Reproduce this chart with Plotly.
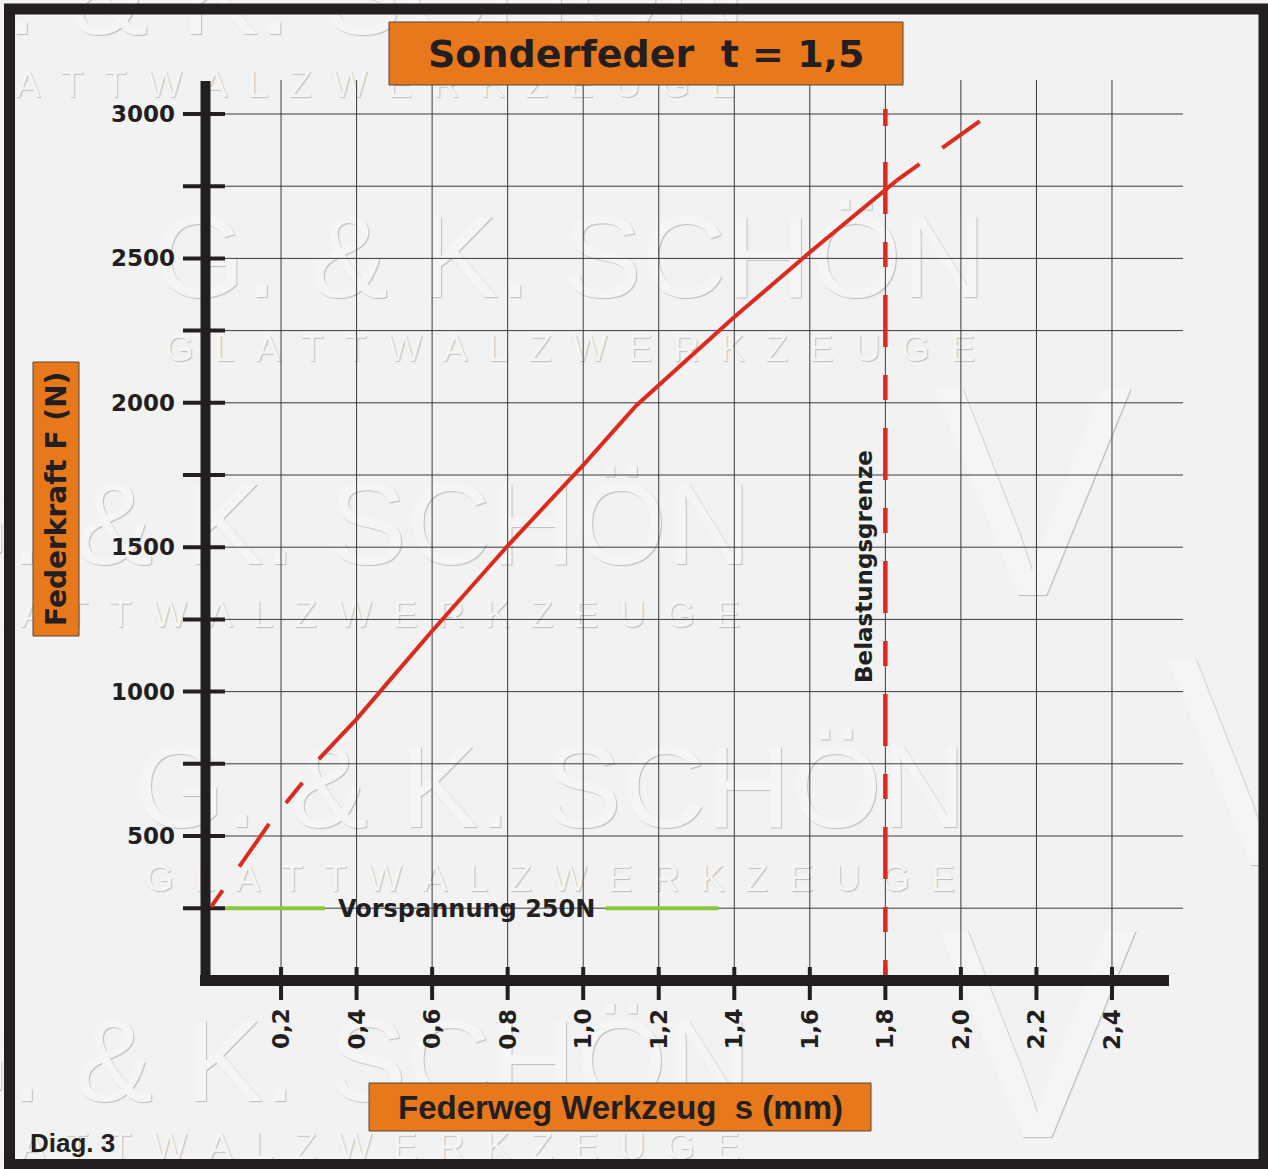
import plotly.graph_objects as go

W, H = 1268, 1169

# Kennlinie Sonderfeder t = 1,5
federweg = [0.015, 0.17, 0.26, 0.30, 0.40, 0.50, 0.60, 0.80, 1.00, 1.14, 1.20, 1.31, 1.40, 1.60, 1.80, 1.83, 2.05]
federkraft = [255, 545, 690, 766, 905, 1058, 1210, 1505, 1784, 1990, 2060, 2192, 2297, 2521, 2735, 2770, 2975]
solid_from, solid_to = 0.30, 1.83   # ausserhalb davon gestrichelt

belastungsgrenze = 1.8
vorspannung = 250
vorspannung_segmente = [(0.052, 0.316), (1.06, 1.358)]

x_ticks = [0.2, 0.4, 0.6, 0.8, 1.0, 1.2, 1.4, 1.6, 1.8, 2.0, 2.2, 2.4]
x_labels = ["0,2", "0,4", "0,6", "0,8", "1,0", "1,2", "1,4", "1,6", "1,8", "2,0", "2,2", "2,4"]
y_ticks = [250, 500, 750, 1000, 1250, 1500, 1750, 2000, 2250, 2500, 2750, 3000]
y_labels = ["", "500", "", "1000", "", "1500", "", "2000", "", "2500", "", "3000"]

# pixel <-> data (plot area = whole page)
X0, XS = 205.5, 377.7
Y0, YS = 980.4, 0.2888


def sx(px):
    return (px - X0) / XS


def fy(py):
    return (Y0 - py) / YS


def px(x):
    return x / W


def py(y):
    return 1 - y / H


BLACK = "#231f20"
RED = "#dc2b1e"
GREEN = "#8cc63e"
ORANGE = "#e8781c"
BOLD = dict(family="DejaVu Sans", weight="bold", color=BLACK)

fig = go.Figure()

# watermark
wm_font = dict(family="Liberation Sans", color="#f5f5f5", shadow="1px 1px 1px #bdbdbd")
rows = [(330, 5, 88), (570, 268, 352), (335, 535, 618), (550, 798, 882), (335, 1072, 1150)]
fig.add_trace(go.Scatter(
    x=[sx(r[0]) for r in rows], y=[fy(r[1]) for r in rows], mode="text",
    text=["G. & K. SCHÖN"] * len(rows), textfont=dict(size=117, **wm_font),
    hoverinfo="skip", cliponaxis=False))
fig.add_trace(go.Scatter(
    x=[sx(r[0]) for r in rows], y=[fy(r[2]) for r in rows], mode="text",
    text=["\u00a0\u00a0".join("GLATTWALZWERKZEUGE")] * len(rows), textfont=dict(size=37, **wm_font),
    hoverinfo="skip", cliponaxis=False))
logos = [(1032, -5), (1270, 225), (1032, 520), (1265, 790), (1037, 1062)]
fig.add_trace(go.Scatter(
    x=[sx(l[0]) for l in logos], y=[fy(l[1]) for l in logos], mode="text",
    text=["V"] * len(logos), textfont=dict(size=300, **wm_font),
    hoverinfo="skip", cliponaxis=False))

# grid
x_end, y_top = sx(1183), fy(80)
gx, gy = [], []
for t in y_ticks:
    gx += [0, x_end, None]
    gy += [t, t, None]
for t in x_ticks:
    gx += [t, t, None]
    gy += [0, y_top, None]
fig.add_trace(go.Scatter(x=gx, y=gy, mode="lines", line=dict(color="#3a3a3a", width=1), hoverinfo="skip"))

# Vorspannung
for a, b in vorspannung_segmente:
    fig.add_trace(go.Scatter(x=[a, b], y=[vorspannung, vorspannung], mode="lines",
                             line=dict(color=GREEN, width=4), hoverinfo="skip"))

# axes + ticks
fig.add_trace(go.Scatter(x=[0, 0], y=[fy(986), fy(81)], mode="lines", line=dict(color=BLACK, width=10), hoverinfo="skip"))
fig.add_trace(go.Scatter(x=[sx(200), sx(1169)], y=[0, 0], mode="lines", line=dict(color=BLACK, width=11), hoverinfo="skip"))
tx, ty = [], []
for t in y_ticks:
    tx += [sx(183), sx(225), None]
    ty += [t, t, None]
for t in x_ticks:
    tx += [t, t, None]
    ty += [fy(967), fy(1000), None]
fig.add_trace(go.Scatter(x=tx, y=ty, mode="lines", line=dict(color=BLACK, width=4), hoverinfo="skip"))

# Belastungsgrenze
fig.add_trace(go.Scatter(
    x=[belastungsgrenze, belastungsgrenze], y=[fy(109), fy(975)], mode="lines", hoverinfo="skip",
    line=dict(color=RED, width=4.5, dash="17px,36px," + "52px,28px,25px,28px," * 7 + "52px,28px")))

# Kennlinie
lo = [i for i, s in enumerate(federweg) if s <= solid_from]
mid = [i for i, s in enumerate(federweg) if solid_from <= s <= solid_to]
hi = [i for i, s in enumerate(federweg) if s >= solid_to]
for idx, dash in [(lo, "20px,29px,52px,27px,26px,29px"), (mid, "solid"), (hi, "28px,28px,52px,28px")]:
    fig.add_trace(go.Scatter(x=[federweg[i] for i in idx], y=[federkraft[i] for i in idx], mode="lines",
                             line=dict(color=RED, width=4, dash=dash), hoverinfo="skip"))

ann = []
for t, lab in zip(y_ticks, y_labels):
    if lab:
        ann.append(dict(x=sx(177), y=t, text=lab, xanchor="right", yanchor="middle",
                        showarrow=False, font=dict(size=23, **BOLD)))
for t, lab in zip(x_ticks, x_labels):
    ann.append(dict(x=t, y=fy(1029), text=lab, textangle=-90, xanchor="center", yanchor="middle",
                    showarrow=False, font=dict(size=23, **BOLD)))
ann.append(dict(x=sx(466), y=vorspannung, yshift=-1, text="Vorspannung %dN" % vorspannung, showarrow=False,
                font=dict(size=24, **BOLD)))
ann.append(dict(x=sx(864), y=fy(567), text="Belastungsgrenze", textangle=-90, showarrow=False,
                font=dict(size=23, **BOLD)))

# orange boxes
boxes = [
    ((389, 22, 903, 85), "Sonderfeder\u00a0\u00a0t = 1,5", dict(size=38, **BOLD), 0),
    ((33, 362, 79, 636), "Federkraft F (N)", dict(size=28, **BOLD), -90),
    ((369, 1083, 871, 1131), "Federweg Werkzeug\u00a0\u00a0s (mm)",
     dict(size=33, family="Liberation Sans", weight="bold", color=BLACK), 0),
]
shapes = []
for (x0, y0, x1, y1), text, font, ang in boxes:
    shapes.append(dict(type="rect", xref="paper", yref="paper", x0=px(x0), x1=px(x1), y0=py(y1), y1=py(y0),
                       fillcolor=ORANGE, line=dict(color="#5b4636", width=1), layer="above"))
    ann.append(dict(xref="paper", yref="paper", x=px((x0 + x1) / 2), y=py((y0 + y1) / 2), text=text,
                    textangle=ang, showarrow=False, font=font, xanchor="center", yanchor="middle"))

ann.append(dict(xref="paper", yref="paper", x=px(28), y=py(1143), text="Diag. 3", xanchor="left",
                yanchor="middle", showarrow=False,
                font=dict(size=26, family="Liberation Sans", weight="bold", color=BLACK)))

# frame
shapes.append(dict(type="rect", xref="paper", yref="paper", x0=px(9.5), x1=px(1264), y0=py(1164.5), y1=py(9),
                   line=dict(color=BLACK, width=11), layer="above"))

fig.update_layout(
    width=W, height=H,
    margin=dict(l=0, r=0, t=0, b=0, pad=0),
    paper_bgcolor="#f2f2f2", plot_bgcolor="#f2f2f2",
    showlegend=False,
    xaxis=dict(range=[sx(0), sx(W)], visible=False, fixedrange=True),
    yaxis=dict(range=[fy(H), fy(0)], visible=False, fixedrange=True),
    annotations=ann, shapes=shapes,
)

fig.write_html("out.html", config=dict(displayModeBar=False),
               post_script="document.body.style.margin='0';document.body.style.overflow='hidden';")
